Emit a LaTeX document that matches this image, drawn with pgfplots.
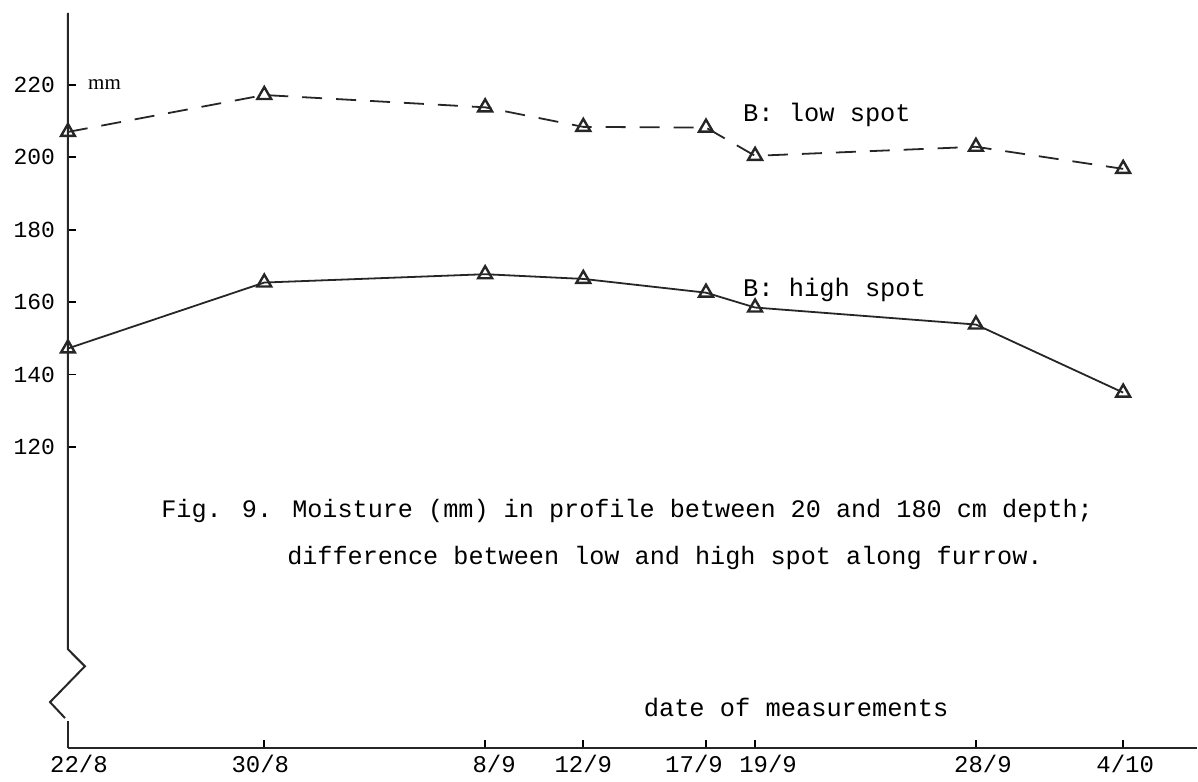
\documentclass[border=0pt]{standalone}
\usepackage{fontspec}
\setmainfont{Liberation Mono}
\newfontfamily\timesf{Liberation Serif}
\usepackage{pgfplots}
\pgfplotsset{compat=1.18}
\newcommand{\xs}[2]{\makebox[0pt]{\hspace*{#1}#2}}
\begin{document}
\begin{tikzpicture}
\begin{axis}[
  scale only axis, width=565pt, height=368pt,
  xmin=0, xmax=46, ymin=36.8, ymax=239.9,
  axis x line*=bottom, axis y line*=left,
  y axis line style={draw=none},
  x axis line style={line width=1.2pt, black!85},
  xtick={0,8,17,21,26,28,37,43},
  xticklabels={\xs{11pt}{22/8},\xs{-4pt}{30/8},\xs{9pt}{8/9},12/9,\xs{-12pt}{17/9},\xs{13pt}{19/9},\xs{7pt}{28/9},\xs{2pt}{4/10}},
  ytick={120,140,...,220},
  tick align=inside,
  major tick length=4pt,
  tick style={line width=0.9pt, black},
  xticklabel style={font=\fontsize{12}{13}\selectfont},
  yticklabel style={font=\fontsize{11.5}{13}\selectfont, xshift=-3pt},
  /pgf/number format/assume math mode=true,
  clip=false,
]
% y axis line with break
\draw[line width=1pt, black!85] (axis cs:0,239.9) -- (axis cs:0,64.1) -- (axis cs:0.69,59.4) -- (axis cs:-0.73,49.5) -- (axis cs:-0.12,45.1);
\draw[line width=1pt, black!85] (axis cs:0,44.3) -- (axis cs:0,36.8);

% B: low spot
\addplot[black!85, line width=0.9pt, dash pattern=on 10pt off 7pt,
  mark=triangle, mark size=4pt, mark options={solid, fill=white, line width=1.2pt}]
  coordinates {(0,207.0) (8,217.2) (17,213.8) (21,208.4) (26,208.2) (28,200.4) (37,202.9) (43,196.8)};
% B: high spot
\addplot[black!85, line width=0.9pt,
  mark=triangle, mark size=4pt, mark options={solid, fill=white, line width=1.2pt}]
  coordinates {(0,147.2) (8,165.4) (17,167.7) (21,166.4) (26,162.6) (28,158.5) (37,153.8) (43,135.0)};

\node[anchor=west, inner sep=0pt, font=\fontsize{12.7}{14}\selectfont] at (axis cs:27.5,211.7) {B: low spot};
\node[anchor=west, inner sep=0pt, font=\fontsize{12.7}{14}\selectfont] at (axis cs:27.5,163.4) {B: high spot};
\node[anchor=west, inner sep=0pt, font=\fontsize{12.6}{14}\selectfont] at (axis cs:3.79,102.2) {Fig. 9. Moisture (mm) in profile between 20 and 180 cm depth;};
\node[anchor=west, inner sep=0pt, font=\fontsize{12.6}{14}\selectfont] at (axis cs:8.92,89.2) {difference between low and high spot along furrow.};
\node[anchor=west, inner sep=0pt, font=\fontsize{12.7}{14}\selectfont] at (axis cs:23.45,48.1) {date of measurements};
\node[anchor=west, inner sep=0pt, font=\timesf\fontsize{10.5}{12}\selectfont] at (axis cs:0.81,220) {mm};

\path (axis cs:-2.769,27.45) rectangle (axis cs:46,243.45);
\end{axis}
\end{tikzpicture}
\end{document}
